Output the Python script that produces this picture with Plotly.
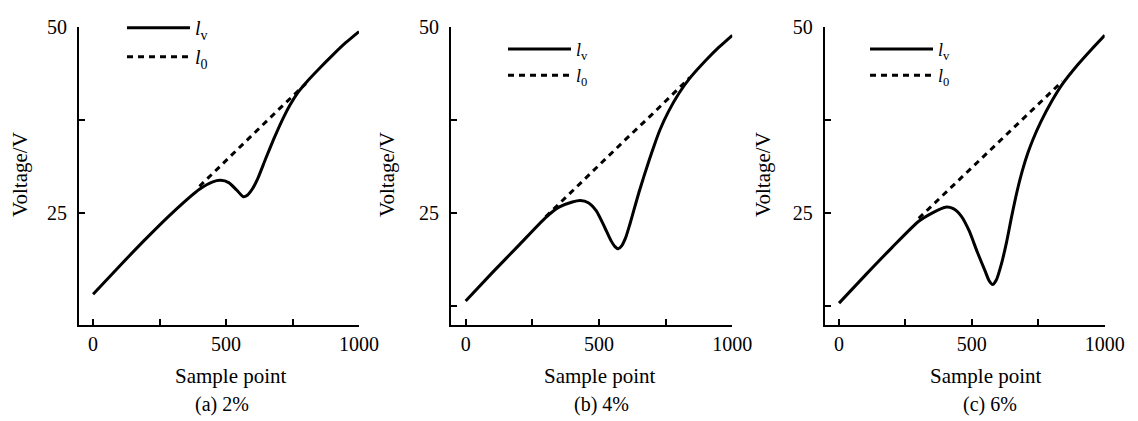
import plotly.graph_objects as go
from plotly.subplots import make_subplots

# (a) 2%
x_a = [0, 100, 200, 300, 400, 450, 480, 510, 540, 565, 580, 600, 620, 650, 680, 710, 740, 770, 800, 850, 900, 950, 1000]
lv_a = [14.1, 17.9, 21.6, 25.1, 28.2, 29.2, 29.4, 29.1, 28.1, 27.2, 27.4, 28.3, 29.7, 32.4, 35.0, 37.4, 39.5, 41.2, 42.5, 44.4, 46.2, 47.9, 49.4]
x0_a = [400, 500, 600, 700, 800]
l0_a = [28.6, 32.1, 35.6, 39.0, 42.4]

# (b) 4%
x_b = [0, 100, 200, 300, 350, 400, 430, 460, 490, 520, 545, 560, 572, 585, 600, 615, 630, 650, 670, 690, 710, 730, 760, 800, 840, 900, 950, 1000]
lv_b = [13.2, 17.0, 20.7, 24.4, 25.8, 26.5, 26.7, 26.4, 25.3, 23.2, 21.3, 20.5, 20.2, 20.6, 21.7, 23.4, 25.3, 27.8, 30.1, 32.3, 34.4, 36.3, 38.6, 41.1, 43.1, 45.5, 47.3, 48.9]
x0_b = [300, 400, 500, 600, 700, 840]
l0_b = [24.5, 28.0, 31.4, 34.9, 38.3, 43.2]

# (c) 6%
x_c = [0, 100, 200, 300, 350, 400, 430, 460, 490, 520, 550, 565, 578, 592, 610, 630, 650, 670, 690, 710, 730, 760, 800, 840, 900, 950, 1000]
lv_c = [12.9, 16.7, 20.4, 23.9, 25.0, 25.8, 25.6, 24.6, 22.6, 19.8, 17.2, 15.9, 15.4, 16.0, 18.0, 21.0, 24.6, 27.9, 30.7, 33.0, 34.9, 37.3, 40.0, 42.3, 45.0, 47.0, 48.9]
x0_c = [300, 400, 500, 600, 700, 840]
l0_c = [24.3, 27.7, 31.1, 34.5, 38.0, 42.7]

captions = ['(a) 2%', '(b) 4%', '(c) 6%']

W, H = 1138, 421
OFF = 8  # page body margin
FONT = 'Liberation Serif, Times New Roman, serif'

panels = [
    (x_a, lv_a, x0_a, l0_a),
    (x_b, lv_b, x0_b, l0_b),
    (x_c, lv_c, x0_c, l0_c),
]


def px(v):
    return (v - OFF) / W


def py(v):
    return 1 - (v - OFF) / H


# pixel geometry of each panel, as seen on the page
px_left = [79, 451, 824.7]
px_right = [359, 732.3, 1104.7]
x_start = [-53, -55, -54]
ytitle_px = [20, 387, 763]
xtitle_px = [231, 600, 986]
caption_px = [222, 601, 990]
legend_px = [(122, 0), (503, 23), (865, 23)]
legend_size = [20, 18, 18]

fig = make_subplots(rows=1, cols=3)

for i, (xs, lv, x0, l0) in enumerate(panels):
    leg = 'legend' if i == 0 else 'legend%d' % (i + 1)
    fig.add_trace(go.Scatter(x=xs, y=lv, mode='lines', name='<i>l</i><sub>v</sub>',
                             line=dict(color='black', width=3, shape='spline', smoothing=0.6),
                             legend=leg), row=1, col=i + 1)
    fig.add_trace(go.Scatter(x=x0, y=l0, mode='lines', name='<i>l</i><sub>0</sub>',
                             line=dict(color='black', width=3, dash='6px,5px'),
                             legend=leg), row=1, col=i + 1)

    ax = '' if i == 0 else str(i + 1)
    yticks = [25, 37.5, 50] if i == 0 else [12.5, 25, 37.5, 50]
    ylabels = ['25', '', '50'] if i == 0 else ['', '25', '', '50']
    fig.layout['xaxis' + ax].update(
        domain=[px(px_left[i]), px(px_right[i])],
        range=[x_start[i], 1000], automargin=False,
        showline=True, linecolor='black', linewidth=2,
        ticks='inside', ticklen=6, tickwidth=2, tickcolor='black',
        tickvals=[0, 250, 500, 750, 1000], ticktext=['0', '', '500', '', '1000'],
        ticklabelstandoff=0,
        showgrid=False, zeroline=False,
        tickfont=dict(family=FONT, size=20, color='black'))
    fig.layout['yaxis' + ax].update(
        domain=[py(322.7), py(19.3)],
        range=[10, 50], automargin=False,
        showline=True, linecolor='black', linewidth=2,
        ticks='inside', ticklen=6, tickwidth=2, tickcolor='black',
        tickvals=yticks, ticktext=ylabels,
        ticklabelstandoff=6,
        showgrid=False, zeroline=False,
        tickfont=dict(family=FONT, size=20, color='black'))

    lx, ly = legend_px[i]
    fig.layout[leg] = dict(x=px(lx), y=py(ly), xanchor='left', yanchor='top',
                           bgcolor='rgba(0,0,0,0)', borderwidth=0,
                           font=dict(family=FONT, size=legend_size[i], color='black'),
                           itemwidth=63, tracegroupgap=0)

    fig.add_annotation(text='Voltage/V', x=px(ytitle_px[i]), y=py(170),
                       xref='paper', yref='paper', textangle=-90, showarrow=False,
                       xanchor='center', yanchor='middle',
                       font=dict(family=FONT, size=21, color='black'))
    fig.add_annotation(text='Sample point', x=px(xtitle_px[i]), y=py(375),
                       xref='paper', yref='paper', showarrow=False,
                       xanchor='center', yanchor='middle',
                       font=dict(family=FONT, size=21, color='black'))
    fig.add_annotation(text=captions[i], x=px(caption_px[i]), y=py(404),
                       xref='paper', yref='paper', showarrow=False,
                       xanchor='center', yanchor='middle',
                       font=dict(family=FONT, size=20, color='black'))

fig.update_layout(width=W, height=H, margin=dict(l=0, r=0, t=0, b=0),
                  plot_bgcolor='white', paper_bgcolor='white', showlegend=True)

fig.write_html('out.html')
